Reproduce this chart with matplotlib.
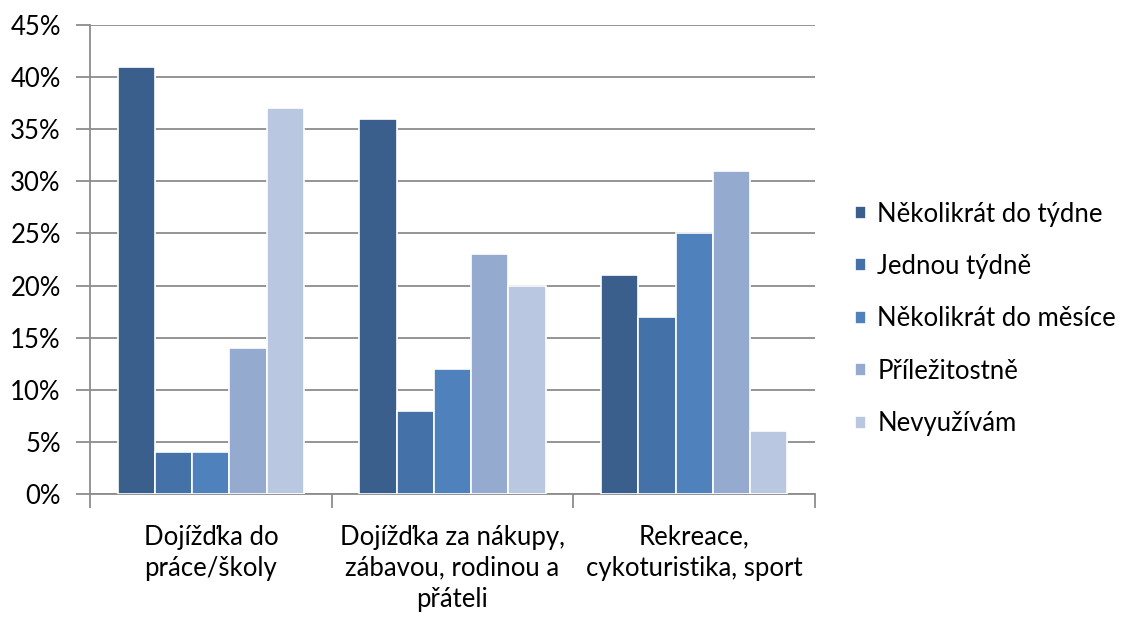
import matplotlib.pyplot as plt
import numpy as np
from matplotlib.ticker import FuncFormatter

plt.rcParams['font.family'] = ['Lato', 'DejaVu Sans']

categories = ["Dojížďka do\npráce/školy",
              "Dojížďka za nákupy,\nzábavou, rodinou a\npřáteli",
              "Rekreace,\ncykoturistika, sport"]
series_names = ["Několikrát do týdne", "Jednou týdně", "Několikrát do měsíce",
                "Příležitostně", "Nevyužívám"]
values = [
    [41, 36, 21],
    [4, 8, 17],
    [4, 12, 25],
    [14, 23, 31],
    [37, 20, 6],
]
colors = ["#3B5F8D", "#4472A8", "#4F81BD", "#95AACF", "#BAC7E1"]

FS = 18.5

fig = plt.figure(figsize=(11.28, 6.18), dpi=100)
ax = fig.add_axes([90/1128, 1 - 494/618, (815-90)/1128, (494-25)/618])

x = np.arange(len(categories))
bw = 0.154
for i, (name, vals, c) in enumerate(zip(series_names, values, colors)):
    ax.bar(x + (i - 2) * bw, vals, bw, color=c, edgecolor="white", linewidth=1.2,
           label=name, zorder=3)

ax.set_xlim(-0.5, len(categories) - 0.5)
ax.set_ylim(0, 45)
ax.set_yticks(np.arange(0, 46, 5))
ax.yaxis.set_major_formatter(FuncFormatter(lambda v, p: f"{int(v)}%"))
ax.grid(axis="y", color="#8C8C8C", linewidth=1.3, zorder=0)
for s in ["top", "right"]:
    ax.spines[s].set_visible(False)
for s in ["left", "bottom"]:
    ax.spines[s].set_color("#8C8C8C")
    ax.spines[s].set_linewidth(1.3)

ax.set_xticks(np.arange(-0.5, len(categories), 1.0))
ax.set_xticklabels([])
ax.set_xticks(x, minor=True)
ax.set_xticklabels(categories, minor=True, fontsize=FS, linespacing=1.3)
ax.tick_params(axis="x", which="major", length=10, color="#8C8C8C", width=1.3)
ax.tick_params(axis="x", which="minor", length=0, pad=22)
ax.tick_params(axis="y", length=10, color="#8C8C8C", width=1.3, labelsize=FS, pad=11)
for lab in ax.get_xticklabels(minor=True):
    lab.set_verticalalignment("top")

leg = fig.legend(loc="center left", bbox_to_anchor=(832/1128, 1 - 319/618), frameon=False,
                 fontsize=FS, handlelength=0.42, handleheight=0.42, handletextpad=0.45,
                 labelspacing=1.07)

fig.savefig("out.png", dpi=100)
